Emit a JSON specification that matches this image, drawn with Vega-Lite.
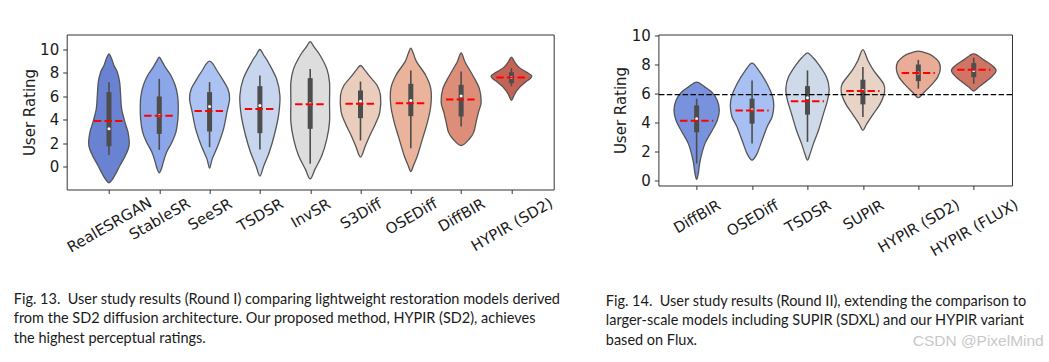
{
  "$schema": "https://vega.github.io/schema/vega-lite/v6.json",
  "padding": {"left": 12.7, "top": 27.5, "right": 16, "bottom": 2},
  "bounds": "flush",
  "spacing": 104.7,
  "resolve": {"scale": {"x": "independent", "y": "independent", "xOffset": "independent", "fill": "independent"}},
  "title": {"text": "CSDN @PixelMind", "orient": "bottom", "anchor": "end", "offset": -14, "dx": 16, "font": "Liberation Sans", "fontSize": 15.5, "fontWeight": "normal", "color": "#c8c8c8"},
  "config": {
    "view": {"stroke": "#333333", "strokeWidth": 1},
    "axis": {"labelFont": "DejaVu Sans", "titleFont": "DejaVu Sans", "labelFontSize": 15, "titleFontSize": 15, "titleFontWeight": "normal", "labelColor": "#1a1a1a", "titleColor": "#1a1a1a", "domain": false, "grid": false, "tickColor": "#333333", "tickSize": 4, "tickWidth": 1},
    "title": {"font": "Lato", "fontSize": 14.5, "fontWeight": "normal", "color": "#1a1a1a"}
  },
  "datasets": {
    "violinL": [
      {"m":"RealESRGAN","v":-1.39,"w":0},{"m":"RealESRGAN","v":-1.19,"w":0.053},{"m":"RealESRGAN","v":-0.63,"w":0.133},{"m":"RealESRGAN","v":0.09,"w":0.219},{"m":"RealESRGAN","v":0.8,"w":0.311},{"m":"RealESRGAN","v":1.51,"w":0.384},{"m":"RealESRGAN","v":2.07,"w":0.404},{"m":"RealESRGAN","v":2.93,"w":0.378},{"m":"RealESRGAN","v":3.78,"w":0.318},{"m":"RealESRGAN","v":4.91,"w":0.252},{"m":"RealESRGAN","v":6.05,"w":0.232},{"m":"RealESRGAN","v":7.19,"w":0.212},{"m":"RealESRGAN","v":8.04,"w":0.166},{"m":"RealESRGAN","v":8.61,"w":0.099},{"m":"RealESRGAN","v":9.18,"w":0.053},{"m":"RealESRGAN","v":9.6,"w":0},
      {"m":"RealESRGAN","v":9.18,"w":-0.053},{"m":"RealESRGAN","v":8.61,"w":-0.099},{"m":"RealESRGAN","v":8.04,"w":-0.166},{"m":"RealESRGAN","v":7.19,"w":-0.212},{"m":"RealESRGAN","v":6.05,"w":-0.232},{"m":"RealESRGAN","v":4.91,"w":-0.252},{"m":"RealESRGAN","v":3.78,"w":-0.318},{"m":"RealESRGAN","v":2.93,"w":-0.378},{"m":"RealESRGAN","v":2.07,"w":-0.404},{"m":"RealESRGAN","v":1.51,"w":-0.384},{"m":"RealESRGAN","v":0.8,"w":-0.311},{"m":"RealESRGAN","v":0.09,"w":-0.219},{"m":"RealESRGAN","v":-0.63,"w":-0.133},{"m":"RealESRGAN","v":-1.19,"w":-0.053},

      {"m":"StableSR","v":-0.54,"w":0},{"m":"StableSR","v":-0.06,"w":0.053},{"m":"StableSR","v":0.37,"w":0.08},{"m":"StableSR","v":1.22,"w":0.146},{"m":"StableSR","v":2.07,"w":0.252},{"m":"StableSR","v":2.93,"w":0.331},{"m":"StableSR","v":4.06,"w":0.371},{"m":"StableSR","v":5.2,"w":0.378},{"m":"StableSR","v":6.05,"w":0.364},{"m":"StableSR","v":6.9,"w":0.318},{"m":"StableSR","v":7.76,"w":0.232},{"m":"StableSR","v":8.47,"w":0.119},{"m":"StableSR","v":9.03,"w":0.046},{"m":"StableSR","v":9.32,"w":0},
      {"m":"StableSR","v":9.03,"w":-0.046},{"m":"StableSR","v":8.47,"w":-0.119},{"m":"StableSR","v":7.76,"w":-0.232},{"m":"StableSR","v":6.9,"w":-0.318},{"m":"StableSR","v":6.05,"w":-0.364},{"m":"StableSR","v":5.2,"w":-0.378},{"m":"StableSR","v":4.06,"w":-0.371},{"m":"StableSR","v":2.93,"w":-0.331},{"m":"StableSR","v":2.07,"w":-0.252},{"m":"StableSR","v":1.22,"w":-0.146},{"m":"StableSR","v":0.37,"w":-0.08},{"m":"StableSR","v":-0.06,"w":-0.053},

      {"m":"SeeSR","v":-0.14,"w":0},{"m":"SeeSR","v":0.65,"w":0.053},{"m":"SeeSR","v":1.79,"w":0.166},{"m":"SeeSR","v":3.21,"w":0.278},{"m":"SeeSR","v":4.63,"w":0.345},{"m":"SeeSR","v":5.77,"w":0.398},{"m":"SeeSR","v":6.62,"w":0.364},{"m":"SeeSR","v":7.47,"w":0.252},{"m":"SeeSR","v":8.18,"w":0.146},{"m":"SeeSR","v":8.75,"w":0.066},{"m":"SeeSR","v":8.98,"w":0},
      {"m":"SeeSR","v":8.75,"w":-0.066},{"m":"SeeSR","v":8.18,"w":-0.146},{"m":"SeeSR","v":7.47,"w":-0.252},{"m":"SeeSR","v":6.62,"w":-0.364},{"m":"SeeSR","v":5.77,"w":-0.398},{"m":"SeeSR","v":4.63,"w":-0.345},{"m":"SeeSR","v":3.21,"w":-0.278},{"m":"SeeSR","v":1.79,"w":-0.166},{"m":"SeeSR","v":0.65,"w":-0.053},

      {"m":"TSDSR","v":-0.82,"w":0},{"m":"TSDSR","v":0.09,"w":0.08},{"m":"TSDSR","v":1.22,"w":0.186},{"m":"TSDSR","v":2.64,"w":0.285},{"m":"TSDSR","v":4.35,"w":0.371},{"m":"TSDSR","v":6.05,"w":0.398},{"m":"TSDSR","v":7.47,"w":0.331},{"m":"TSDSR","v":8.89,"w":0.166},{"m":"TSDSR","v":9.46,"w":0.08},{"m":"TSDSR","v":9.97,"w":0},
      {"m":"TSDSR","v":9.46,"w":-0.08},{"m":"TSDSR","v":8.89,"w":-0.166},{"m":"TSDSR","v":7.47,"w":-0.331},{"m":"TSDSR","v":6.05,"w":-0.398},{"m":"TSDSR","v":4.35,"w":-0.371},{"m":"TSDSR","v":2.64,"w":-0.285},{"m":"TSDSR","v":1.22,"w":-0.186},{"m":"TSDSR","v":0.09,"w":-0.08},

      {"m":"InvSR","v":-1.05,"w":0},{"m":"InvSR","v":-0.2,"w":0.099},{"m":"InvSR","v":0.94,"w":0.232},{"m":"InvSR","v":2.36,"w":0.331},{"m":"InvSR","v":3.78,"w":0.384},{"m":"InvSR","v":5.48,"w":0.384},{"m":"InvSR","v":7.19,"w":0.384},{"m":"InvSR","v":8.32,"w":0.331},{"m":"InvSR","v":9.46,"w":0.199},{"m":"InvSR","v":10.17,"w":0.08},{"m":"InvSR","v":10.65,"w":0},
      {"m":"InvSR","v":10.17,"w":-0.08},{"m":"InvSR","v":9.46,"w":-0.199},{"m":"InvSR","v":8.32,"w":-0.331},{"m":"InvSR","v":7.19,"w":-0.384},{"m":"InvSR","v":5.48,"w":-0.384},{"m":"InvSR","v":3.78,"w":-0.384},{"m":"InvSR","v":2.36,"w":-0.331},{"m":"InvSR","v":0.94,"w":-0.232},{"m":"InvSR","v":-0.2,"w":-0.099},

      {"m":"S3Diff","v":0.8,"w":0},{"m":"S3Diff","v":1.79,"w":0.099},{"m":"S3Diff","v":2.64,"w":0.186},{"m":"S3Diff","v":3.64,"w":0.298},{"m":"S3Diff","v":4.63,"w":0.384},{"m":"S3Diff","v":6.05,"w":0.398},{"m":"S3Diff","v":6.9,"w":0.331},{"m":"S3Diff","v":7.76,"w":0.166},{"m":"S3Diff","v":8.32,"w":0.066},{"m":"S3Diff","v":8.61,"w":0},
      {"m":"S3Diff","v":8.32,"w":-0.066},{"m":"S3Diff","v":7.76,"w":-0.166},{"m":"S3Diff","v":6.9,"w":-0.331},{"m":"S3Diff","v":6.05,"w":-0.398},{"m":"S3Diff","v":4.63,"w":-0.384},{"m":"S3Diff","v":3.64,"w":-0.298},{"m":"S3Diff","v":2.64,"w":-0.186},{"m":"S3Diff","v":1.79,"w":-0.099},

      {"m":"OSEDiff","v":-0.43,"w":0},{"m":"OSEDiff","v":0.09,"w":0.053},{"m":"OSEDiff","v":0.94,"w":0.133},{"m":"OSEDiff","v":2.36,"w":0.232},{"m":"OSEDiff","v":3.78,"w":0.331},{"m":"OSEDiff","v":5.2,"w":0.398},{"m":"OSEDiff","v":6.62,"w":0.398},{"m":"OSEDiff","v":7.76,"w":0.298},{"m":"OSEDiff","v":8.89,"w":0.119},{"m":"OSEDiff","v":9.6,"w":0.053},{"m":"OSEDiff","v":10.09,"w":0},
      {"m":"OSEDiff","v":9.6,"w":-0.053},{"m":"OSEDiff","v":8.89,"w":-0.119},{"m":"OSEDiff","v":7.76,"w":-0.298},{"m":"OSEDiff","v":6.62,"w":-0.398},{"m":"OSEDiff","v":5.2,"w":-0.398},{"m":"OSEDiff","v":3.78,"w":-0.331},{"m":"OSEDiff","v":2.36,"w":-0.232},{"m":"OSEDiff","v":0.94,"w":-0.133},{"m":"OSEDiff","v":0.09,"w":-0.053},

      {"m":"DiffBIR","v":1.79,"w":0},{"m":"DiffBIR","v":2.36,"w":0.166},{"m":"DiffBIR","v":2.93,"w":0.252},{"m":"DiffBIR","v":3.78,"w":0.298},{"m":"DiffBIR","v":4.63,"w":0.345},{"m":"DiffBIR","v":5.48,"w":0.398},{"m":"DiffBIR","v":6.62,"w":0.364},{"m":"DiffBIR","v":7.76,"w":0.232},{"m":"DiffBIR","v":8.89,"w":0.08},{"m":"DiffBIR","v":9.69,"w":0},
      {"m":"DiffBIR","v":8.89,"w":-0.08},{"m":"DiffBIR","v":7.76,"w":-0.232},{"m":"DiffBIR","v":6.62,"w":-0.364},{"m":"DiffBIR","v":5.48,"w":-0.398},{"m":"DiffBIR","v":4.63,"w":-0.345},{"m":"DiffBIR","v":3.78,"w":-0.298},{"m":"DiffBIR","v":2.93,"w":-0.252},{"m":"DiffBIR","v":2.36,"w":-0.166},

      {"m":"HYPIR (SD2)","v":5.63,"w":0},{"m":"HYPIR (SD2)","v":6.19,"w":0.066},{"m":"HYPIR (SD2)","v":6.76,"w":0.166},{"m":"HYPIR (SD2)","v":7.19,"w":0.278},{"m":"HYPIR (SD2)","v":7.53,"w":0.384},{"m":"HYPIR (SD2)","v":7.76,"w":0.398},{"m":"HYPIR (SD2)","v":8.04,"w":0.298},{"m":"HYPIR (SD2)","v":8.47,"w":0.146},{"m":"HYPIR (SD2)","v":8.89,"w":0.066},{"m":"HYPIR (SD2)","v":9.32,"w":0},
      {"m":"HYPIR (SD2)","v":8.89,"w":-0.066},{"m":"HYPIR (SD2)","v":8.47,"w":-0.146},{"m":"HYPIR (SD2)","v":8.04,"w":-0.298},{"m":"HYPIR (SD2)","v":7.76,"w":-0.398},{"m":"HYPIR (SD2)","v":7.53,"w":-0.384},{"m":"HYPIR (SD2)","v":7.19,"w":-0.278},{"m":"HYPIR (SD2)","v":6.76,"w":-0.166},{"m":"HYPIR (SD2)","v":6.19,"w":-0.066}
    ],
    "statsL": [
      {"m":"RealESRGAN","q1":1.73,"q3":6.34,"lo":0.99,"hi":7.19,"med":3.21,"mean":3.87},
      {"m":"StableSR","q1":2.78,"q3":5.97,"lo":1.42,"hi":7.47,"med":4.35,"mean":4.32},
      {"m":"SeeSR","q1":2.98,"q3":6.34,"lo":1.65,"hi":7.19,"med":5.11,"mean":4.74},
      {"m":"TSDSR","q1":2.84,"q3":6.85,"lo":1.45,"hi":7.76,"med":5.2,"mean":4.91},
      {"m":"InvSR","q1":3.21,"q3":7.53,"lo":0.23,"hi":8.32,"med":5.34,"mean":5.31},
      {"m":"S3Diff","q1":4.12,"q3":6.48,"lo":2.22,"hi":7.24,"med":5.57,"mean":5.34},
      {"m":"OSEDiff","q1":4.29,"q3":7.05,"lo":1.56,"hi":8.18,"med":5.63,"mean":5.4},
      {"m":"DiffBIR","q1":4.26,"q3":6.96,"lo":3.41,"hi":8.1,"med":6.0,"mean":5.71},
      {"m":"HYPIR (SD2)","q1":7.1,"q3":8.04,"lo":6.85,"hi":8.38,"med":7.59,"mean":7.59}
    ],
    "violinR": [
      {"m":"DiffBIR","v":0.05,"w":0},{"m":"DiffBIR","v":0.46,"w":0.03},{"m":"DiffBIR","v":1.38,"w":0.066},{"m":"DiffBIR","v":2.52,"w":0.15},{"m":"DiffBIR","v":3.44,"w":0.283},{"m":"DiffBIR","v":4.13,"w":0.373},{"m":"DiffBIR","v":4.82,"w":0.409},{"m":"DiffBIR","v":5.5,"w":0.373},{"m":"DiffBIR","v":6.08,"w":0.271},{"m":"DiffBIR","v":6.42,"w":0.15},{"m":"DiffBIR","v":6.77,"w":0},
      {"m":"DiffBIR","v":6.42,"w":-0.15},{"m":"DiffBIR","v":6.08,"w":-0.271},{"m":"DiffBIR","v":5.5,"w":-0.373},{"m":"DiffBIR","v":4.82,"w":-0.409},{"m":"DiffBIR","v":4.13,"w":-0.373},{"m":"DiffBIR","v":3.44,"w":-0.283},{"m":"DiffBIR","v":2.52,"w":-0.15},{"m":"DiffBIR","v":1.38,"w":-0.066},{"m":"DiffBIR","v":0.46,"w":-0.03},

      {"m":"OSEDiff","v":1.38,"w":0},{"m":"OSEDiff","v":1.83,"w":0.09},{"m":"OSEDiff","v":2.75,"w":0.181},{"m":"OSEDiff","v":3.67,"w":0.271},{"m":"OSEDiff","v":4.36,"w":0.361},{"m":"OSEDiff","v":5.05,"w":0.391},{"m":"OSEDiff","v":5.73,"w":0.373},{"m":"OSEDiff","v":6.65,"w":0.271},{"m":"OSEDiff","v":7.57,"w":0.12},{"m":"OSEDiff","v":8.07,"w":0},
      {"m":"OSEDiff","v":7.57,"w":-0.12},{"m":"OSEDiff","v":6.65,"w":-0.271},{"m":"OSEDiff","v":5.73,"w":-0.373},{"m":"OSEDiff","v":5.05,"w":-0.391},{"m":"OSEDiff","v":4.36,"w":-0.361},{"m":"OSEDiff","v":3.67,"w":-0.271},{"m":"OSEDiff","v":2.75,"w":-0.181},{"m":"OSEDiff","v":1.83,"w":-0.09},

      {"m":"TSDSR","v":1.38,"w":0},{"m":"TSDSR","v":1.83,"w":0.048},{"m":"TSDSR","v":2.52,"w":0.108},{"m":"TSDSR","v":3.44,"w":0.199},{"m":"TSDSR","v":4.59,"w":0.289},{"m":"TSDSR","v":5.5,"w":0.361},{"m":"TSDSR","v":6.31,"w":0.391},{"m":"TSDSR","v":7.11,"w":0.343},{"m":"TSDSR","v":8.03,"w":0.193},{"m":"TSDSR","v":8.49,"w":0.09},{"m":"TSDSR","v":8.78,"w":0},
      {"m":"TSDSR","v":8.49,"w":-0.09},{"m":"TSDSR","v":8.03,"w":-0.193},{"m":"TSDSR","v":7.11,"w":-0.343},{"m":"TSDSR","v":6.31,"w":-0.391},{"m":"TSDSR","v":5.5,"w":-0.361},{"m":"TSDSR","v":4.59,"w":-0.289},{"m":"TSDSR","v":3.44,"w":-0.199},{"m":"TSDSR","v":2.52,"w":-0.108},{"m":"TSDSR","v":1.83,"w":-0.048},

      {"m":"SUPIR","v":3.44,"w":0},{"m":"SUPIR","v":3.9,"w":0.072},{"m":"SUPIR","v":4.59,"w":0.193},{"m":"SUPIR","v":5.28,"w":0.313},{"m":"SUPIR","v":6.08,"w":0.391},{"m":"SUPIR","v":6.65,"w":0.373},{"m":"SUPIR","v":7.57,"w":0.193},{"m":"SUPIR","v":8.26,"w":0.09},{"m":"SUPIR","v":9.01,"w":0},
      {"m":"SUPIR","v":8.26,"w":-0.09},{"m":"SUPIR","v":7.57,"w":-0.193},{"m":"SUPIR","v":6.65,"w":-0.373},{"m":"SUPIR","v":6.08,"w":-0.391},{"m":"SUPIR","v":5.28,"w":-0.313},{"m":"SUPIR","v":4.59,"w":-0.193},{"m":"SUPIR","v":3.9,"w":-0.072},

      {"m":"HYPIR (SD2)","v":5.69,"w":0},{"m":"HYPIR (SD2)","v":6.08,"w":0.108},{"m":"HYPIR (SD2)","v":6.54,"w":0.229},{"m":"HYPIR (SD2)","v":7.11,"w":0.349},{"m":"HYPIR (SD2)","v":7.68,"w":0.397},{"m":"HYPIR (SD2)","v":8.14,"w":0.373},{"m":"HYPIR (SD2)","v":8.53,"w":0.271},{"m":"HYPIR (SD2)","v":8.76,"w":0.15},{"m":"HYPIR (SD2)","v":8.9,"w":0},
      {"m":"HYPIR (SD2)","v":8.76,"w":-0.15},{"m":"HYPIR (SD2)","v":8.53,"w":-0.271},{"m":"HYPIR (SD2)","v":8.14,"w":-0.373},{"m":"HYPIR (SD2)","v":7.68,"w":-0.397},{"m":"HYPIR (SD2)","v":7.11,"w":-0.349},{"m":"HYPIR (SD2)","v":6.54,"w":-0.229},{"m":"HYPIR (SD2)","v":6.08,"w":-0.108},

      {"m":"HYPIR (FLUX)","v":6.15,"w":0},{"m":"HYPIR (FLUX)","v":6.42,"w":0.09},{"m":"HYPIR (FLUX)","v":6.77,"w":0.211},{"m":"HYPIR (FLUX)","v":7.16,"w":0.331},{"m":"HYPIR (FLUX)","v":7.57,"w":0.403},{"m":"HYPIR (FLUX)","v":7.91,"w":0.331},{"m":"HYPIR (FLUX)","v":8.3,"w":0.181},{"m":"HYPIR (FLUX)","v":8.6,"w":0.072},{"m":"HYPIR (FLUX)","v":8.72,"w":0},
      {"m":"HYPIR (FLUX)","v":8.6,"w":-0.072},{"m":"HYPIR (FLUX)","v":8.3,"w":-0.181},{"m":"HYPIR (FLUX)","v":7.91,"w":-0.331},{"m":"HYPIR (FLUX)","v":7.57,"w":-0.403},{"m":"HYPIR (FLUX)","v":7.16,"w":-0.331},{"m":"HYPIR (FLUX)","v":6.77,"w":-0.211},{"m":"HYPIR (FLUX)","v":6.42,"w":-0.09}
    ],
    "statsR": [
      {"m":"DiffBIR","q1":3.3,"q3":5.16,"lo":1.15,"hi":5.62,"med":4.24,"mean":4.1},
      {"m":"OSEDiff","q1":3.9,"q3":5.62,"lo":2.52,"hi":6.88,"med":4.86,"mean":4.8},
      {"m":"TSDSR","q1":4.52,"q3":6.49,"lo":2.64,"hi":7.57,"med":5.69,"mean":5.44},
      {"m":"SUPIR","q1":5.23,"q3":6.93,"lo":4.36,"hi":7.8,"med":6.19,"mean":6.15},
      {"m":"HYPIR (SD2)","q1":6.83,"q3":7.98,"lo":6.31,"hi":8.3,"med":7.39,"mean":7.39},
      {"m":"HYPIR (FLUX)","q1":7.11,"q3":8.07,"lo":6.65,"hi":8.44,"med":7.57,"mean":7.61}
    ],
    "refR": [{"ref": 5.9}]
  },
  "hconcat": [
    {
      "width": 487,
      "height": 155,
      "title": {"text": ["Fig. 13.\u00a0 User study results (Round I) comparing lightweight restoration models derived", "from the SD2 diffusion architecture. Our proposed method, HYPIR (SD2), achieves", "the highest perceptual ratings."], "orient": "bottom", "anchor": "start", "frame": "bounds", "offset": 37.5, "lineHeight": 19.5, "dx": -8.3},
      "encoding": {
        "x": {"field": "m", "type": "nominal", "title": null, "sort": null,
          "scale": {"type": "point", "domain": ["RealESRGAN","StableSR","SeeSR","TSDSR","InvSR","S3Diff","OSEDiff","DiffBIR","HYPIR (SD2)"], "padding": 0.84},
          "axis": {"labelAngle": -30, "labelAlign": "center", "labelBaseline": "middle", "labelOverlap": false, "labelLimit": 0,
            "labelPadding": {"condition": [
              {"test": "datum.value === 'RealESRGAN'", "value": 31},
              {"test": "datum.value === 'StableSR'", "value": 25},
              {"test": "datum.value === 'SeeSR'", "value": 20.5},
              {"test": "datum.value === 'TSDSR'", "value": 21},
              {"test": "datum.value === 'InvSR'", "value": 19.3},
              {"test": "datum.value === 'S3Diff'", "value": 19.8},
              {"test": "datum.value === 'OSEDiff'", "value": 22.5},
              {"test": "datum.value === 'DiffBIR'", "value": 21.2}
            ], "value": 30.5}}}
      },
      "layer": [
        {
          "data": {"name": "violinL"},
          "mark": {"type": "line", "interpolate": "cardinal-closed", "stroke": "#555555", "strokeWidth": 1.3},
          "encoding": {
            "y": {"field": "v", "type": "quantitative", "title": "User Rating", "scale": {"domain": [-1.96, 11.25], "nice": false, "zero": false}, "axis": {"values": [0,2,4,6,8,10], "labelOverlap": false, "labelPadding": 4, "titlePadding": 2.5}},
            "xOffset": {"field": "w", "type": "quantitative", "scale": {"domain": [-1, 1], "range": [-50.3, 50.3]}},
            "fill": {"field": "m", "type": "nominal", "legend": null, "scale": {"domain": ["RealESRGAN","StableSR","SeeSR","TSDSR","InvSR","S3Diff","OSEDiff","DiffBIR","HYPIR (SD2)"], "range": ["#6a82d2","#8ba6e9","#abc2f3","#c7d6ee","#dddddd","#ebcdbe","#eab39c","#dd8e79","#c56256"]}},
            "order": {"value": null}
          }
        },
        {
          "data": {"name": "statsL"},
          "mark": {"type": "rule", "color": "#4d4d4d", "strokeWidth": 1.6},
          "encoding": {
            "y": {"field": "lo", "type": "quantitative", "title": "User Rating", "scale": {"domain": [-1.96, 11.25], "nice": false, "zero": false}, "axis": {"values": [0,2,4,6,8,10], "labelOverlap": false, "labelPadding": 4, "titlePadding": 2.5}},
            "y2": {"field": "hi"}
          }
        },
        {
          "data": {"name": "statsL"},
          "mark": {"type": "rule", "color": "#4d4d4d", "strokeWidth": 5},
          "encoding": {
            "y": {"field": "q1", "type": "quantitative", "title": "User Rating", "scale": {"domain": [-1.96, 11.25], "nice": false, "zero": false}, "axis": {"values": [0,2,4,6,8,10], "labelOverlap": false, "labelPadding": 4, "titlePadding": 2.5}},
            "y2": {"field": "q3"}
          }
        },
        {
          "data": {"name": "statsL"},
          "mark": {"type": "point", "filled": true, "color": "white", "size": 9, "opacity": 1},
          "encoding": {
            "y": {"field": "med", "type": "quantitative", "title": "User Rating", "scale": {"domain": [-1.96, 11.25], "nice": false, "zero": false}, "axis": {"values": [0,2,4,6,8,10], "labelOverlap": false, "labelPadding": 4, "titlePadding": 2.5}}
          }
        },
        {
          "data": {"name": "statsL"},
          "mark": {"type": "rule", "color": "#ff0000", "strokeWidth": 2, "strokeDash": [7.4, 3.2], "xOffset": -15.1, "x2Offset": 15.1},
          "encoding": {
            "x2": {"field": "m"},
            "y": {"field": "mean", "type": "quantitative", "title": "User Rating", "scale": {"domain": [-1.96, 11.25], "nice": false, "zero": false}, "axis": {"values": [0,2,4,6,8,10], "labelOverlap": false, "labelPadding": 4, "titlePadding": 2.5}}
          }
        }
      ]
    },
    {
      "width": 353.6,
      "height": 151,
      "title": {"text": ["Fig. 14.\u00a0 User study results (Round II), extending the comparison to", "larger-scale models including SUPIR (SDXL) and our HYPIR variant", "based on Flux."], "orient": "bottom", "anchor": "start", "frame": "bounds", "offset": 36, "lineHeight": 19.5, "dx": -8},
      "encoding": {
        "x": {"field": "m", "type": "nominal", "title": null, "sort": null,
          "scale": {"type": "point", "domain": ["DiffBIR","OSEDiff","TSDSR","SUPIR","HYPIR (SD2)","HYPIR (FLUX)"], "padding": 0.69},
          "axis": {"labelAngle": -30, "labelAlign": "center", "labelBaseline": "middle", "labelOverlap": false, "labelLimit": 0,
            "labelPadding": {"condition": [
              {"test": "datum.value === 'DiffBIR'", "value": 26.7},
              {"test": "datum.value === 'OSEDiff'", "value": 28.1},
              {"test": "datum.value === 'TSDSR'", "value": 26.5},
              {"test": "datum.value === 'SUPIR'", "value": 25.1},
              {"test": "datum.value === 'HYPIR (SD2)'", "value": 36}
            ], "value": 37.8}}}
      },
      "layer": [
        {
          "data": {"name": "violinR"},
          "mark": {"type": "line", "interpolate": "cardinal-closed", "stroke": "#555555", "strokeWidth": 1.3},
          "encoding": {
            "y": {"field": "v", "type": "quantitative", "title": "User Rating", "scale": {"domain": [-0.37, 10.05], "nice": false, "zero": false}, "axis": {"values": [0,2,4,6,8,10], "labelOverlap": false, "labelPadding": 4, "titlePadding": 2.5}},
            "xOffset": {"field": "w", "type": "quantitative", "scale": {"domain": [-1, 1], "range": [-55.4, 55.4]}},
            "fill": {"field": "m", "type": "nominal", "legend": null, "scale": {"domain": ["DiffBIR","OSEDiff","TSDSR","SUPIR","HYPIR (SD2)","HYPIR (FLUX)"], "range": ["#7992dd","#a7bff2","#ced9ea","#e8d3c7","#e9ad97","#d07565"]}},
            "order": {"value": null}
          }
        },
        {
          "data": {"name": "statsR"},
          "mark": {"type": "rule", "color": "#4d4d4d", "strokeWidth": 1.6},
          "encoding": {
            "y": {"field": "lo", "type": "quantitative", "title": "User Rating", "scale": {"domain": [-0.37, 10.05], "nice": false, "zero": false}, "axis": {"values": [0,2,4,6,8,10], "labelOverlap": false, "labelPadding": 4, "titlePadding": 2.5}},
            "y2": {"field": "hi"}
          }
        },
        {
          "data": {"name": "statsR"},
          "mark": {"type": "rule", "color": "#4d4d4d", "strokeWidth": 5},
          "encoding": {
            "y": {"field": "q1", "type": "quantitative", "title": "User Rating", "scale": {"domain": [-0.37, 10.05], "nice": false, "zero": false}, "axis": {"values": [0,2,4,6,8,10], "labelOverlap": false, "labelPadding": 4, "titlePadding": 2.5}},
            "y2": {"field": "q3"}
          }
        },
        {
          "data": {"name": "statsR"},
          "mark": {"type": "point", "filled": true, "color": "white", "size": 9, "opacity": 1},
          "encoding": {
            "y": {"field": "med", "type": "quantitative", "title": "User Rating", "scale": {"domain": [-0.37, 10.05], "nice": false, "zero": false}, "axis": {"values": [0,2,4,6,8,10], "labelOverlap": false, "labelPadding": 4, "titlePadding": 2.5}}
          }
        },
        {
          "data": {"name": "statsR"},
          "mark": {"type": "rule", "color": "#ff0000", "strokeWidth": 2, "strokeDash": [7.4, 3.2], "xOffset": -16.6, "x2Offset": 16.6},
          "encoding": {
            "x2": {"field": "m"},
            "y": {"field": "mean", "type": "quantitative", "title": "User Rating", "scale": {"domain": [-0.37, 10.05], "nice": false, "zero": false}, "axis": {"values": [0,2,4,6,8,10], "labelOverlap": false, "labelPadding": 4, "titlePadding": 2.5}}
          }
        },
        {
          "data": {"name": "refR"},
          "mark": {"type": "rule", "color": "#000000", "strokeWidth": 1.2, "strokeDash": [5.5, 2.4]},
          "encoding": {
            "x": null,
            "y": {"field": "ref", "type": "quantitative", "title": "User Rating", "scale": {"domain": [-0.37, 10.05], "nice": false, "zero": false}, "axis": {"values": [0,2,4,6,8,10], "labelOverlap": false, "labelPadding": 4, "titlePadding": 2.5}}
          }
        }
      ]
    }
  ]
}
